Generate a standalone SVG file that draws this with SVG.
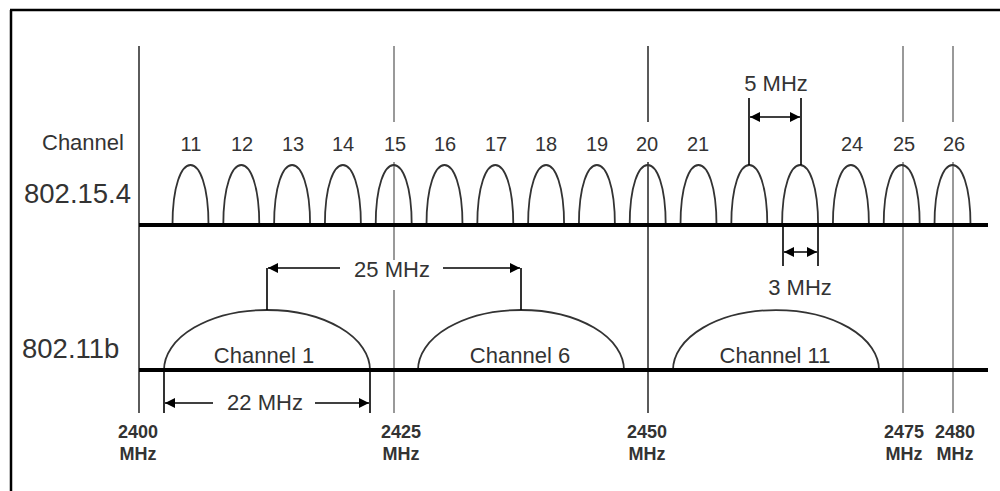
<svg xmlns="http://www.w3.org/2000/svg" width="1000" height="491" viewBox="0 0 1000 491">
<defs>
<style>
.t{font-family:"Liberation Sans",Arial,sans-serif;fill:#333}
.lbl{font-size:22px}
.num{font-size:20px;text-anchor:middle}
.big{font-size:27.5px}
.freq{font-size:18px;font-weight:bold;text-anchor:middle}
.arch{fill:none;stroke:#333;stroke-width:1.8}
.dk{stroke:#333;stroke-width:1.6;fill:none}
.gr{stroke:#999;stroke-width:2;fill:none}
.base{stroke:#000;stroke-width:4;fill:none}
.arr{stroke:#000;stroke-width:1.6;fill:none}
</style>
<marker id="ah" viewBox="0 0 10 10" refX="10" refY="5" markerWidth="10" markerHeight="10" markerUnits="userSpaceOnUse" orient="auto-start-reverse">
<path d="M0,0 L10,5 L0,10 z" fill="#000"/>
</marker>
</defs>
<rect width="1000" height="491" fill="#fff"/>
<g id="frame">
<line x1="10" y1="10" x2="1000" y2="10" stroke="#000" stroke-width="2.5"/>
<line x1="11" y1="10" x2="11" y2="491" stroke="#000" stroke-width="2.5"/>
</g>
<g id="freq-lines">
<line class="dk" x1="139" y1="46" x2="139" y2="413"/>
<path class="gr" d="M394,46 V122 M394,162 V260 M394,290 V413"/>
<path class="dk" d="M648,46 V122 M648,162 V413"/>
<path class="gr" d="M903,46 V122 M903,162 V413"/>
<path class="gr" d="M953,46 V122 M953,162 V413"/>
</g>
<g id="zigbee-channels">
<path class="arch" d="M172.5,225 C172.5,185 181.5,165 190.5,165 C199.5,165 208.5,185 208.5,225"/>
<path class="arch" d="M223.3,225 C223.3,185 232.3,165 241.3,165 C250.3,165 259.3,185 259.3,225"/>
<path class="arch" d="M274.1,225 C274.1,185 283.1,165 292.1,165 C301.1,165 310.1,185 310.1,225"/>
<path class="arch" d="M324.9,225 C324.9,185 333.9,165 342.9,165 C351.9,165 360.9,185 360.9,225"/>
<path class="arch" d="M375.7,225 C375.7,185 384.7,165 393.7,165 C402.7,165 411.7,185 411.7,225"/>
<path class="arch" d="M426.5,225 C426.5,185 435.5,165 444.5,165 C453.5,165 462.5,185 462.5,225"/>
<path class="arch" d="M477.3,225 C477.3,185 486.3,165 495.3,165 C504.3,165 513.3,185 513.3,225"/>
<path class="arch" d="M528.1,225 C528.1,185 537.1,165 546.1,165 C555.1,165 564.1,185 564.1,225"/>
<path class="arch" d="M578.9,225 C578.9,185 587.9,165 596.9,165 C605.9,165 614.9,185 614.9,225"/>
<path class="arch" d="M629.7,225 C629.7,185 638.7,165 647.7,165 C656.7,165 665.7,185 665.7,225"/>
<path class="arch" d="M680.5,225 C680.5,185 689.5,165 698.5,165 C707.5,165 716.5,185 716.5,225"/>
<path class="arch" d="M731.3,225 C731.3,185 740.3,165 749.3,165 C758.3,165 767.3,185 767.3,225"/>
<path class="arch" d="M782.1,225 C782.1,185 791.1,165 800.1,165 C809.1,165 818.1,185 818.1,225"/>
<path class="arch" d="M832.9,225 C832.9,185 841.9,165 850.9,165 C859.9,165 868.9,185 868.9,225"/>
<path class="arch" d="M883.7,225 C883.7,185 892.7,165 901.7,165 C910.7,165 919.7,185 919.7,225"/>
<path class="arch" d="M934.5,225 C934.5,185 943.5,165 952.5,165 C961.5,165 970.5,185 970.5,225"/>
</g>
<g id="wifi-channels">
<path class="arch" d="M164,370 A103,60 0 0 1 370,370"/>
<path class="arch" d="M418,370 A103,60 0 0 1 624,370"/>
<path class="arch" d="M673,370 A103,60 0 0 1 879,370"/>
</g>
<g id="baselines">
<line class="base" x1="139" y1="225" x2="988" y2="225"/>
<line class="base" x1="139" y1="370" x2="988" y2="370"/>
</g>
<g id="connectors">
<path class="arr" d="M749,98 V165 M801,98 V165"/>
<line class="arr" x1="750" y1="117" x2="800" y2="117" marker-start="url(#ah)" marker-end="url(#ah)"/>
<path class="arr" d="M783,225 V266 M818,225 V266"/>
<line class="arr" x1="784" y1="252" x2="817" y2="252" marker-start="url(#ah)" marker-end="url(#ah)"/>
<path class="arr" d="M267,310 V268 M521,310 V268"/>
<line class="arr" x1="340" y1="268" x2="268" y2="268" marker-end="url(#ah)"/>
<line class="arr" x1="443" y1="268" x2="520" y2="268" marker-end="url(#ah)"/>
<path class="arr" d="M164,370 V413 M370,370 V413"/>
<line class="arr" x1="213" y1="403" x2="165" y2="403" marker-end="url(#ah)"/>
<line class="arr" x1="315" y1="403" x2="369" y2="403" marker-end="url(#ah)"/>
</g>
<g id="labels">
<text class="t lbl" x="42" y="150">Channel</text>
<text class="t big" x="24" y="203">802.15.4</text>
<text class="t big" x="22" y="358">802.11b</text>
<text class="t num" x="191" y="151">11</text>
<text class="t num" x="242" y="151">12</text>
<text class="t num" x="293" y="151">13</text>
<text class="t num" x="343" y="151">14</text>
<text class="t num" x="395" y="151">15</text>
<text class="t num" x="445" y="151">16</text>
<text class="t num" x="496" y="151">17</text>
<text class="t num" x="546" y="151">18</text>
<text class="t num" x="597" y="151">19</text>
<text class="t num" x="647" y="151">20</text>
<text class="t num" x="698" y="151">21</text>
<text class="t num" x="852" y="151">24</text>
<text class="t num" x="904" y="151">25</text>
<text class="t num" x="954" y="151">26</text>
<text class="t lbl" x="776" y="91" text-anchor="middle">5 MHz</text>
<text class="t lbl" x="800" y="295" text-anchor="middle">3 MHz</text>
<text class="t lbl" x="392" y="277" text-anchor="middle">25 MHz</text>
<text class="t lbl" x="265" y="410" text-anchor="middle">22 MHz</text>
<text class="t lbl" x="264" y="363" text-anchor="middle">Channel 1</text>
<text class="t lbl" x="520" y="363" text-anchor="middle">Channel 6</text>
<text class="t lbl" x="775" y="363" text-anchor="middle">Channel 11</text>
<text class="t freq" x="138" y="438">2400</text>
<text class="t freq" x="138" y="460">MHz</text>
<text class="t freq" x="401" y="438">2425</text>
<text class="t freq" x="401" y="460">MHz</text>
<text class="t freq" x="647" y="438">2450</text>
<text class="t freq" x="647" y="460">MHz</text>
<text class="t freq" x="904" y="438">2475</text>
<text class="t freq" x="904" y="460">MHz</text>
<text class="t freq" x="955" y="438">2480</text>
<text class="t freq" x="955" y="460">MHz</text>
</g>
</svg>
